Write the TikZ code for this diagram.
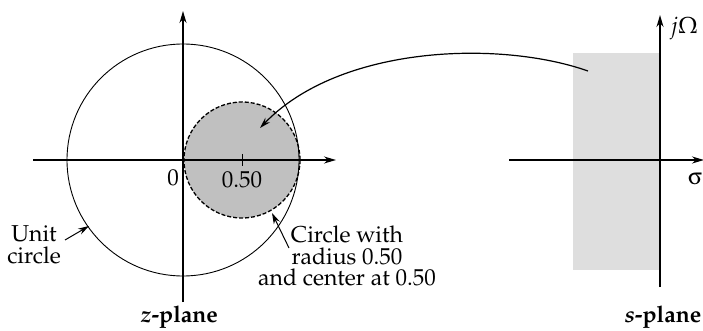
\documentclass[tikz,border=0pt]{standalone}
\usepackage[T1]{fontenc}
\usepackage{mathpazo}
\usepackage[Symbol]{upgreek}
\usetikzlibrary{arrows.meta}
\begin{document}
\begin{tikzpicture}[x=1pt,y=-1pt,
  axis/.style={line width=1.5pt,-{Stealth[length=12pt,width=7pt]}},
  pointer/.style={line width=1pt,-{Stealth[length=11pt,width=6.5pt]}},
  lbl/.style={font=\fontsize{23}{21.5}\selectfont,inner sep=0pt,align=center},
  ttl/.style={font=\fontsize{23}{21.5}\selectfont\bfseries,inner sep=0pt}]
\useasboundingbox (0,0) rectangle (703,331);
\definecolor{darkfill}{RGB}{192,192,192}
\definecolor{lightfill}{RGB}{222,222,222}
% z-plane
\coordinate (O) at (183,160);
\coordinate (C) at (242,160);
\fill[darkfill] (C) circle[radius=58];
\draw[line width=1.3pt,dash pattern=on 4pt off 2pt] (C) circle[radius=58];
\draw[line width=0.9pt] (O) circle[radius=116];
\coordinate (xl) at (33,160);
\coordinate (xr) at (336,160);
\coordinate (yb) at (183,302);
\coordinate (yt) at (183,11);
\draw[axis] (xl) -- (xr);
\draw[axis] (yb) -- (yt);
\coordinate (tk1) at (242,154);
\coordinate (tk2) at (242,166);
\draw[line width=1pt] (tk1) -- (tk2);
\node[lbl] (zero) at (173,178) {0};
\node[lbl] (half) at (242,180) {0.50};
\node[lbl] (unit) at (34,245) {Unit\\circle};
\coordinate (ut) at (65,240);
\coordinate (uc) at (89,226);
\draw[pointer] (ut) -- (uc);
\node[lbl] (cw) at (347,256) {Circle with\\radius 0.50\\and center at 0.50};
\coordinate (cwt) at (289,248);
\coordinate (cwh) at (272,213);
\draw[pointer] (cwt) -- (cwh);
\node[ttl] (zp) at (179,317) {\textit{z}-plane};
% s-plane
\fill[lightfill] (573,53) rectangle (660,270);
\coordinate (sl) at (509,160);
\coordinate (sr) at (704,160);
\coordinate (sb) at (660,287);
\coordinate (st) at (660,15);
\draw[axis] (sl) -- (sr);
\draw[axis] (sb) -- (st);
\node[lbl] (jw) at (684,28) {$j\Omega$};
\node[lbl] (sig) at (695,179) {$\upsigma$};
\node[ttl] (sp) at (663,317) {\textit{s}-plane};
% mapping arrow
\coordinate (ms) at (588,71);
\coordinate (me) at (260,128);
\draw[pointer,line width=1.2pt] (ms) .. controls (500,40) and (340,45) .. (me);
\end{tikzpicture}
\end{document}
